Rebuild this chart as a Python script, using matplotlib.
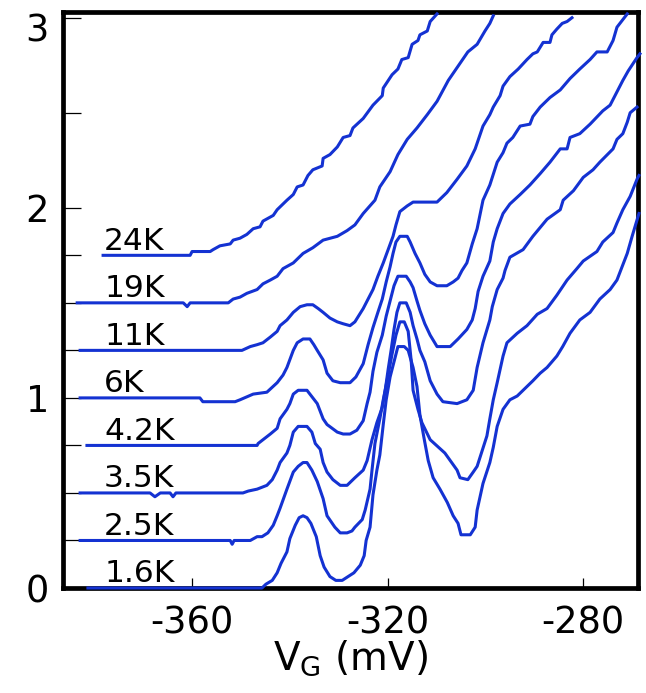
import matplotlib
matplotlib.use('Agg')
import matplotlib.pyplot as plt
from matplotlib.transforms import ScaledTranslation

plt.rcParams['font.family'] = ['DejaVu Sans']
plt.rcParams['mathtext.fontset'] = 'dejavusans'

labels = ['1.6K', '2.5K', '3.5K', '4.2K', '6K', '11K', '19K', '24K']
offsets = [0.0, 0.25, 0.5, 0.75, 1.0, 1.25, 1.5, 1.75]

vg_1p6K = [-381.3, -345.7, -344.9, -343.6, -342.6, -341.8, -340.6, -340.0, -338.9, -338.1, -337.3, -336.5, -335.7, -334.6, -333.8, -333.0, -331.8, -330.6, -329.3, -328.1, -326.9, -325.6, -324.8, -324.4, -323.6, -323.0, -322.2, -321.6, -320.9, -320.3, -319.5, -318.7, -317.9, -316.6, -315.8, -314.8, -314.0, -313.4, -312.5, -311.7, -310.7, -309.3, -307.8, -306.6, -305.6, -305.0, -303.1, -302.1, -301.7, -300.5, -299.1, -298.4, -297.6, -296.4, -295.0, -293.5, -292.3, -290.3, -288.8, -287.4, -285.4, -284.2, -282.7, -280.7, -278.6, -276.6, -274.5, -273.1, -271.0, -270.0, -268.6]
g_1p6K = [0.0, 0.0, 0.02, 0.04, 0.08, 0.13, 0.19, 0.26, 0.33, 0.37, 0.38, 0.37, 0.34, 0.27, 0.17, 0.11, 0.06, 0.04, 0.04, 0.06, 0.08, 0.12, 0.17, 0.25, 0.32, 0.49, 0.62, 0.70, 0.86, 0.99, 1.11, 1.19, 1.27, 1.27, 1.25, 1.16, 1.06, 0.91, 0.78, 0.67, 0.58, 0.52, 0.45, 0.38, 0.34, 0.28, 0.28, 0.32, 0.41, 0.55, 0.66, 0.74, 0.85, 0.94, 0.99, 1.01, 1.04, 1.09, 1.13, 1.16, 1.22, 1.27, 1.34, 1.41, 1.45, 1.52, 1.57, 1.62, 1.76, 1.85, 1.97]

vg_2p5K = [-382.9, -352.2, -351.8, -351.4, -348.1, -346.7, -345.7, -344.5, -343.4, -342.6, -342.0, -340.6, -339.3, -338.3, -337.3, -336.5, -335.5, -334.4, -333.2, -332.4, -330.8, -329.7, -328.3, -327.3, -326.7, -325.2, -324.6, -323.6, -323.2, -322.6, -321.6, -320.9, -319.9, -319.1, -318.3, -317.5, -316.6, -315.8, -315.2, -314.8, -313.8, -313.0, -311.3, -308.3, -305.8, -305.2, -303.6, -302.5, -301.7, -299.7, -299.1, -298.4, -297.6, -297.0, -296.4, -295.6, -293.5, -291.5, -289.4, -287.4, -285.4, -283.3, -281.3, -280.0, -277.2, -276.0, -273.9, -273.1, -271.9, -270.4, -269.0, -268.6]
g_2p5K = [0.0, 0.0, -0.02, 0.0, 0.0, 0.02, 0.02, 0.04, 0.08, 0.13, 0.17, 0.27, 0.36, 0.39, 0.41, 0.41, 0.37, 0.31, 0.22, 0.13, 0.07, 0.04, 0.04, 0.05, 0.07, 0.11, 0.16, 0.27, 0.37, 0.51, 0.64, 0.74, 0.87, 0.98, 1.08, 1.15, 1.15, 1.10, 0.95, 0.79, 0.69, 0.62, 0.53, 0.46, 0.37, 0.33, 0.32, 0.36, 0.39, 0.55, 0.64, 0.74, 0.83, 0.90, 0.97, 1.04, 1.09, 1.13, 1.19, 1.22, 1.29, 1.37, 1.43, 1.47, 1.52, 1.57, 1.62, 1.67, 1.74, 1.81, 1.90, 1.92]

vg_3p5K = [-382.9, -368.6, -367.6, -366.5, -364.5, -363.9, -363.3, -349.6, -348.5, -346.7, -345.7, -344.7, -343.6, -342.6, -342.0, -340.6, -340.0, -339.3, -338.3, -336.5, -335.5, -334.8, -333.8, -333.2, -332.4, -331.2, -329.7, -328.3, -326.7, -325.0, -324.2, -323.2, -322.2, -321.1, -320.5, -319.9, -319.3, -318.7, -318.1, -317.5, -316.2, -315.4, -314.8, -314.0, -313.4, -312.4, -311.3, -309.9, -308.7, -305.8, -303.8, -302.5, -301.7, -300.5, -299.1, -298.6, -297.6, -296.4, -296.0, -295.0, -292.3, -290.3, -287.4, -284.7, -284.1, -282.0, -280.0, -278.0, -276.6, -273.9, -273.1, -271.9, -271.0, -270.4, -269.0]
g_3p5K = [0.0, 0.0, -0.02, 0.0, 0.0, -0.02, 0.0, 0.0, 0.01, 0.02, 0.03, 0.04, 0.07, 0.12, 0.16, 0.21, 0.25, 0.32, 0.35, 0.35, 0.32, 0.26, 0.23, 0.16, 0.11, 0.07, 0.04, 0.04, 0.08, 0.12, 0.17, 0.28, 0.37, 0.45, 0.54, 0.65, 0.75, 0.86, 0.95, 1.00, 1.00, 0.95, 0.88, 0.81, 0.75, 0.69, 0.59, 0.52, 0.48, 0.47, 0.49, 0.54, 0.66, 0.79, 0.91, 0.98, 1.07, 1.13, 1.17, 1.24, 1.28, 1.35, 1.44, 1.49, 1.54, 1.59, 1.66, 1.70, 1.74, 1.81, 1.86, 1.89, 1.95, 2.00, 2.03]

vg_4p2K = [-381.5, -346.7, -346.5, -345.5, -344.0, -342.6, -342.0, -340.6, -340.0, -339.3, -338.3, -336.5, -335.3, -334.4, -333.2, -332.4, -330.3, -329.1, -327.7, -326.3, -325.0, -324.2, -323.6, -323.0, -322.2, -321.1, -320.3, -319.5, -318.7, -317.9, -316.2, -315.4, -314.8, -314.0, -313.4, -312.4, -311.3, -309.9, -307.2, -305.6, -303.8, -302.7, -302.1, -301.5, -300.5, -299.1, -298.4, -297.6, -296.4, -295.0, -292.9, -290.9, -288.8, -286.8, -284.7, -283.3, -282.7, -280.7, -278.6, -276.0, -274.5, -273.1, -271.9, -270.8, -269.0, -268.4]
g_4p2K = [0.0, 0.0, 0.01, 0.03, 0.06, 0.09, 0.14, 0.19, 0.22, 0.27, 0.29, 0.29, 0.25, 0.22, 0.14, 0.11, 0.07, 0.06, 0.06, 0.08, 0.13, 0.22, 0.28, 0.39, 0.49, 0.58, 0.68, 0.76, 0.84, 0.89, 0.89, 0.86, 0.83, 0.76, 0.71, 0.64, 0.58, 0.52, 0.52, 0.56, 0.61, 0.66, 0.72, 0.81, 0.89, 0.97, 1.07, 1.14, 1.22, 1.27, 1.32, 1.37, 1.43, 1.49, 1.56, 1.56, 1.62, 1.64, 1.69, 1.76, 1.79, 1.86, 1.92, 1.97, 2.04, 2.06]

vg_6K = [-382.9, -358.4, -357.8, -351.2, -350.2, -347.5, -344.7, -342.6, -341.4, -340.6, -339.3, -338.5, -337.3, -335.9, -335.1, -334.4, -333.2, -332.4, -331.2, -329.7, -327.7, -326.5, -325.0, -324.0, -323.0, -322.0, -321.1, -320.3, -319.5, -318.9, -318.3, -317.5, -316.0, -315.4, -314.4, -313.4, -312.4, -311.3, -309.9, -307.9, -306.6, -305.6, -304.8, -303.8, -302.7, -301.7, -300.5, -299.1, -297.6, -296.4, -295.6, -294.4, -292.9, -290.9, -290.3, -288.8, -286.8, -284.7, -282.7, -280.7, -278.6, -277.2, -275.1, -273.9, -273.1, -271.0]
g_6K = [0.0, 0.0, -0.02, -0.02, -0.01, 0.02, 0.03, 0.08, 0.12, 0.16, 0.25, 0.29, 0.31, 0.31, 0.28, 0.25, 0.20, 0.13, 0.09, 0.08, 0.08, 0.11, 0.18, 0.28, 0.37, 0.45, 0.52, 0.61, 0.69, 0.76, 0.82, 0.85, 0.85, 0.82, 0.76, 0.71, 0.65, 0.61, 0.59, 0.59, 0.61, 0.63, 0.67, 0.71, 0.81, 0.89, 1.04, 1.12, 1.24, 1.29, 1.34, 1.37, 1.43, 1.44, 1.48, 1.53, 1.58, 1.62, 1.68, 1.73, 1.78, 1.82, 1.82, 1.88, 1.95, 2.02]

vg_11K = [-382.9, -349.8, -348.1, -346.7, -345.5, -344.0, -342.6, -342.0, -340.6, -339.3, -337.9, -336.5, -335.3, -334.2, -333.2, -331.8, -330.3, -329.1, -327.7, -326.7, -325.0, -324.0, -323.0, -322.0, -320.9, -319.9, -318.9, -318.3, -317.5, -316.0, -314.8, -313.4, -309.9, -307.9, -305.8, -303.8, -302.1, -300.5, -299.1, -298.4, -297.0, -296.4, -295.0, -293.3, -291.5, -290.3, -289.4, -288.2, -286.8, -286.4, -285.4, -284.3, -283.3, -282.3]
g_11K = [0.0, 0.0, 0.02, 0.03, 0.04, 0.07, 0.10, 0.13, 0.16, 0.20, 0.23, 0.24, 0.24, 0.22, 0.20, 0.17, 0.15, 0.14, 0.13, 0.15, 0.22, 0.27, 0.32, 0.39, 0.46, 0.53, 0.60, 0.66, 0.73, 0.76, 0.78, 0.78, 0.78, 0.83, 0.90, 0.97, 1.06, 1.18, 1.24, 1.28, 1.34, 1.39, 1.44, 1.48, 1.53, 1.56, 1.57, 1.62, 1.62, 1.66, 1.69, 1.72, 1.73, 1.75]

vg_19K = [-383.5, -361.8, -361.0, -360.4, -352.6, -351.6, -350.2, -348.8, -346.7, -345.5, -344.0, -342.6, -341.4, -339.3, -337.3, -335.3, -333.2, -330.3, -328.3, -326.7, -325.0, -322.6, -321.6, -319.5, -317.9, -316.0, -314.0, -311.9, -309.9, -307.6, -305.2, -303.6, -301.7, -300.1, -299.1, -298.4]
g_19K = [0.0, 0.0, -0.02, 0.0, 0.0, 0.02, 0.03, 0.05, 0.07, 0.10, 0.12, 0.14, 0.18, 0.21, 0.26, 0.29, 0.33, 0.35, 0.38, 0.41, 0.47, 0.54, 0.61, 0.69, 0.78, 0.86, 0.92, 0.99, 1.06, 1.17, 1.26, 1.32, 1.36, 1.43, 1.47, 1.51]

vg_24K = [-378.2, -360.4, -360.0, -356.3, -355.7, -354.3, -352.2, -351.6, -350.2, -348.8, -347.5, -346.1, -345.5, -343.4, -342.6, -340.6, -339.3, -338.5, -337.3, -336.3, -335.3, -333.4, -333.2, -331.8, -330.3, -329.1, -327.7, -327.1, -325.0, -323.0, -321.1, -320.9, -319.1, -317.9, -317.1, -315.8, -315.0, -313.8, -313.4, -311.9, -311.3, -309.9]
g_24K = [0.0, 0.0, 0.02, 0.02, 0.03, 0.05, 0.06, 0.08, 0.09, 0.11, 0.14, 0.15, 0.18, 0.21, 0.24, 0.29, 0.32, 0.36, 0.37, 0.42, 0.45, 0.47, 0.51, 0.53, 0.57, 0.62, 0.63, 0.67, 0.72, 0.79, 0.84, 0.88, 0.95, 0.98, 1.03, 1.04, 1.11, 1.13, 1.16, 1.18, 1.23, 1.27]

vg_list = [vg_1p6K, vg_2p5K, vg_3p5K, vg_4p2K, vg_6K, vg_11K, vg_19K, vg_24K]
g_list = [g_1p6K, g_2p5K, g_3p5K, g_4p2K, g_6K, g_11K, g_19K, g_24K]

x_ticks = [-360, -320, -280]
y_major = [0, 1, 2, 3]
y_minor = [0.25, 0.5, 0.75, 1.25, 1.5, 1.75, 2.5]

line_color = '#1432d2'

fig = plt.figure(figsize=(6.46, 6.93), dpi=100)
ax = fig.add_axes([63 / 646, 1 - 588 / 693, (637.5 - 63) / 646, (588 - 12) / 693])

for vg, g, off, lab in zip(vg_list, g_list, offsets, labels):
    ax.plot(vg, [v + off for v in g], color=line_color, lw=2.2,
            clip_on=False, zorder=5)
    ax.text(-378.0, off + 0.03, lab, fontsize=22.5, va='baseline',
            ha='left', color='black', zorder=6)

ax.set_xlim(-386.4, -268.9)
ax.set_ylim(0, 3.03)

ax.set_xticks(x_ticks)
ax.set_xticklabels([str(t) for t in x_ticks])
ax.set_yticks(y_major)
ax.set_yticklabels([str(t) for t in y_major])
ax.set_yticks(y_minor, minor=True)

ax.tick_params(axis='y', which='both', direction='in', length=13, width=0.9,
               labelsize=26.5, pad=10, right=False)
ax.tick_params(axis='x', which='both', direction='in', length=7.5, width=0.9,
               labelsize=26.5, pad=12, top=False)

for sp in ax.spines.values():
    sp.set_linewidth(3.4)
    sp.set_color('black')

ax.set_xlabel(r'V$_\mathregular{G}$ (mV)', fontsize=28, labelpad=-2)

# top tick label sits slightly lower in the reference
for t in ax.yaxis.get_major_ticks():
    pass
lab3 = ax.yaxis.get_major_ticks()[3].label1
lab3.set_transform(lab3.get_transform() +
                   ScaledTranslation(0, -9 / 100, fig.dpi_scale_trans))

fig.savefig('out.png', dpi=100)
